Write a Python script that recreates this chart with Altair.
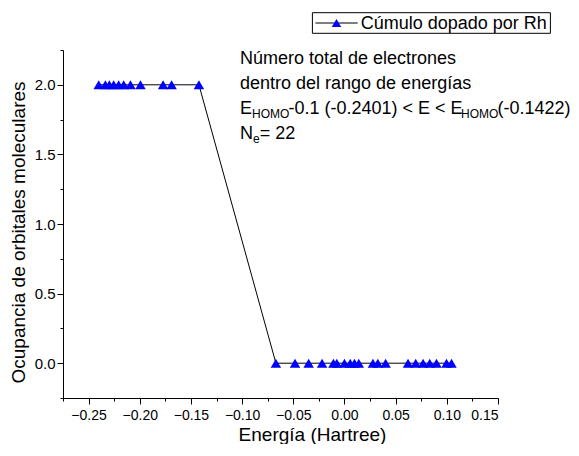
import altair as alt
import pandas as pd

FONT = "Liberation Sans"

# Orbital energies (Hartree) and occupations
energia = [-0.2401, -0.2336, -0.2297, -0.2255, -0.2206, -0.2157, -0.2091, -0.1993,
           -0.1772, -0.1689, -0.1422,
           -0.0670, -0.0483, -0.0350, -0.0219, -0.0108, -0.0075, 0.0000, 0.0056,
           0.0098, 0.0140, 0.0278, 0.0326, 0.0402, 0.0621, 0.0696, 0.0768, 0.0833,
           0.0899, 0.0997, 0.1046]
ocupacion = [2.0, 2.0, 2.0, 2.0, 2.0, 2.0, 2.0, 2.0, 2.0, 2.0, 2.0,
             0.0, 0.0, 0.0, 0.0, 0.0, 0.0, 0.0, 0.0, 0.0, 0.0, 0.0, 0.0, 0.0,
             0.0, 0.0, 0.0, 0.0, 0.0, 0.0, 0.0]

x_ticks = [-0.25, -0.20, -0.15, -0.10, -0.05, 0.00, 0.05, 0.10, 0.15]
x_minor = [-0.275, -0.225, -0.175, -0.125, -0.075, -0.025, 0.025, 0.075, 0.125]
y_ticks = [0.0, 0.5, 1.0, 1.5, 2.0]
y_minor = [-0.25, 0.25, 0.75, 1.25, 1.75, 2.25]

serie = "Cúmulo dopado por Rh"
nota_1 = "Número total de electrones"
nota_2 = "dentro del rango de energías"
nota_3a = "E"
nota_3b = "HOMO"
nota_3c = "-0.1 (-0.2401) < E < E"
nota_3d = "HOMO"
nota_3e = "(-0.1422)"
nota_4a = "N"
nota_4b = "e"
nota_4c = "= 22"

df = pd.DataFrame({"energia": energia, "ocupacion": ocupacion,
                   "idx": list(range(len(energia)))})

xscale = alt.Scale(domain=[-0.275, 0.15], nice=False, zero=False)
yscale = alt.Scale(domain=[-0.25, 2.25], nice=False, zero=False)

x_main = alt.Axis(values=x_ticks, format=".2f", tickSize=6, labelFontSize=14,
                  titleFontSize=19, title="Energía (Hartree)", grid=False,
                  labelFont=FONT, titleFont=FONT, titleFontWeight="normal",
                  domainColor="black", tickColor="black", labelColor="black",
                  titleColor="black", orient="bottom", labelPadding=4,
                  titlePadding=3, titleX=249)
x_min = alt.Axis(values=x_minor, tickSize=3, labels=False, domain=False, grid=False,
                 title="", tickColor="black", orient="bottom")
y_main = alt.Axis(values=y_ticks, format=".1f", tickSize=6, labelFontSize=15,
                  titleFontSize=19, title="Ocupancia de orbitales moleculares",
                  grid=False, labelFont=FONT, titleFont=FONT, titleFontWeight="normal",
                  domainColor="black", tickColor="black", labelColor="black",
                  titleColor="black", orient="left", labelPadding=2, titlePadding=6,
                  titleY=182)
y_min = alt.Axis(values=y_minor, tickSize=3, labels=False, domain=False, grid=False,
                 title="", tickColor="black", orient="left")

base = alt.Chart(df)
linea = base.mark_line(color="black", strokeWidth=1).encode(
    x=alt.X("energia:Q", scale=xscale, axis=x_main),
    y=alt.Y("ocupacion:Q", scale=yscale, axis=y_main),
    order="idx:Q",
)
puntos = base.mark_point(shape="triangle-up", filled=True, color="#0000FF",
                         size=110, opacity=1).encode(
    x=alt.X("energia:Q", scale=xscale, axis=x_min),
    y=alt.Y("ocupacion:Q", scale=yscale, axis=y_min),
)


def one():
    return pd.DataFrame({"k": [0]})


def texto(s, x, y, size=18):
    return alt.Chart(pd.DataFrame({"t": [s]})).mark_text(
        align="left", baseline="alphabetic", fontSize=size, font=FONT, color="black"
    ).encode(text="t:N", x=alt.value(x), y=alt.value(y))


caja = alt.Chart(one()).mark_rect(fill="white", stroke="black", strokeWidth=1).encode(
    x=alt.value(249.4), x2=alt.value(487.4), y=alt.value(-37.3), y2=alt.value(-16.7))
leg_linea = alt.Chart(one()).mark_rule(color="black", strokeWidth=1).encode(
    x=alt.value(252.4), x2=alt.value(294.7), y=alt.value(-27))
leg_punto = alt.Chart(one()).mark_point(shape="triangle-up", filled=True,
                                        color="#0000FF", size=90, opacity=1).encode(
    x=alt.value(273.5), y=alt.value(-27))
leg_texto = texto(serie, 297.7, -20.7)

X0 = 177
anot = [
    texto(nota_1, X0, 14.3),
    texto(nota_2, X0, 39.3),
    texto(nota_3a, X0, 64.3),
    texto(nota_3b, X0 + 12, 68.3, 12),
    texto(nota_3c, X0 + 48.5, 64.3),
    texto(nota_3d, X0 + 221, 68.3, 12),
    texto(nota_3e, X0 + 257.5, 64.3),
    texto(nota_4a, X0, 89.3),
    texto(nota_4b, X0 + 13, 92.7, 12),
    texto(nota_4c, X0 + 19.7, 89.3),
]

chart = alt.layer(linea, puntos, caja, leg_linea, leg_punto, leg_texto, *anot).resolve_scale(
    x="shared", y="shared"
).resolve_axis(x="independent", y="independent").properties(
    width=435, height=348,
    autosize=alt.AutoSizeParams(type="none"),
    padding={"left": 55, "top": 42, "right": 73, "bottom": 46},
).configure_view(stroke=None)

chart.save("out.html", embed_options={"renderer": "svg", "actions": False})
